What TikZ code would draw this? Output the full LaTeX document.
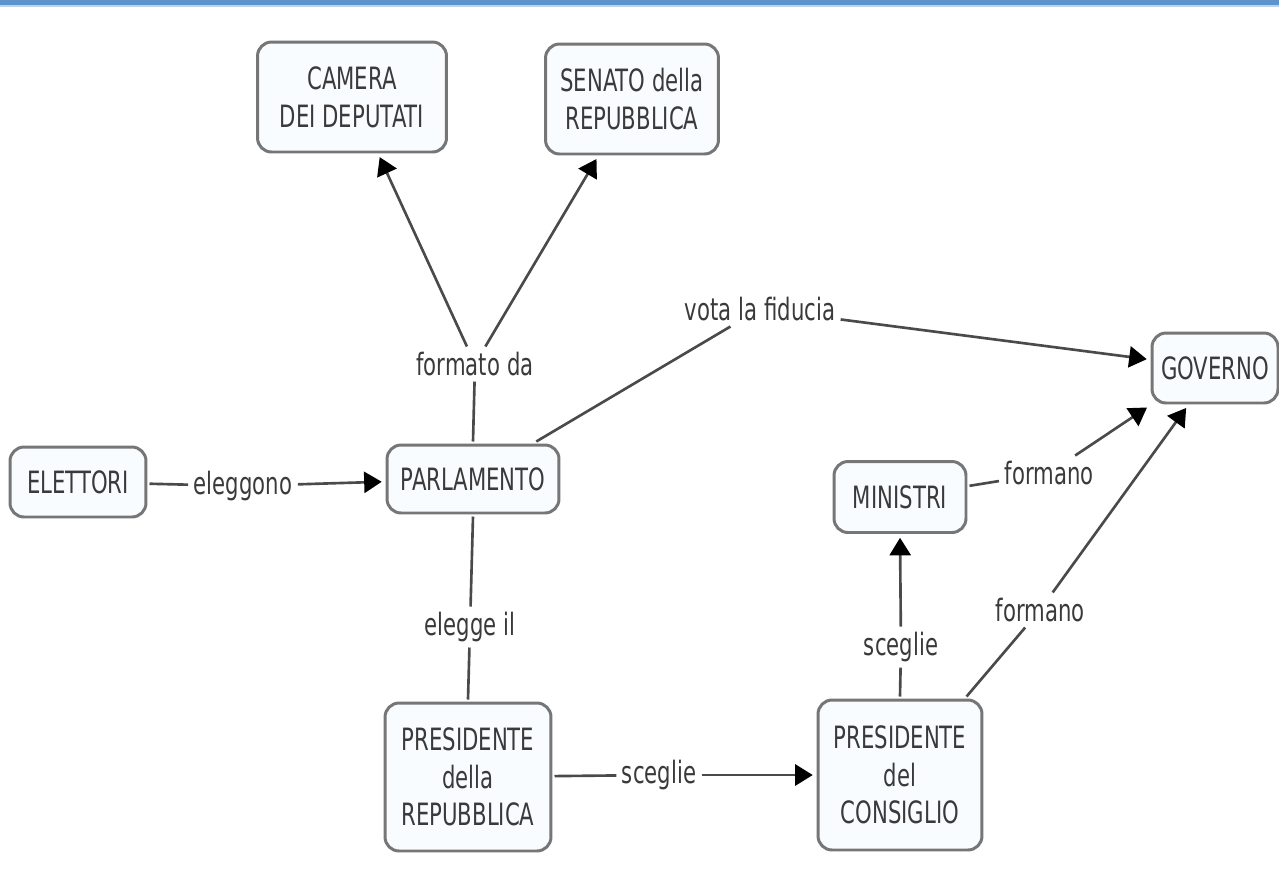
\documentclass[tikz,border=0pt]{standalone}
\usepackage{fontspec}
\setmainfont{DejaVu Sans}[FakeStretch=0.69]
\usetikzlibrary{arrows.meta}
\definecolor{boxborder}{HTML}{767676}
\definecolor{boxfill}{HTML}{F9FCFE}
\definecolor{txt}{HTML}{3A3A3A}
\definecolor{linec}{HTML}{4A4A4A}
\definecolor{topbar}{HTML}{5F93CC}
\begin{document}
\begin{tikzpicture}[x=0.02cm,y=-0.02cm,
  concept/.style={draw=boxborder, fill=boxfill, line width=1.7pt, rounded corners=8pt,
    align=center, text=txt, font=\fontsize{17.5}{21.5}\selectfont, inner sep=2pt, outer sep=2pt},
  lbl/.style={text=txt, font=\fontsize{17.5}{21.5}\selectfont, inner sep=3pt},
  conn/.style={draw=linec, line width=1.5pt},
  arr/.style={conn, -{Triangle[length=10pt,width=12pt,color=black]}, shorten >=1pt}]
\clip (0,0) rectangle (1279,894);
\fill[white] (0,0) rectangle (1279,894);
\fill[topbar] (0,0) rectangle (1279,5);
\fill[topbar!40] (0,5) rectangle (1279,7);

\node[concept, minimum width=3.78cm, minimum height=2.2cm] (cam) at (352,97) {CAMERA\\DEI DEPUTATI};
\node[concept, minimum width=3.46cm, minimum height=2.2cm] (sen) at (632,99) {SENATO della\\REPUBBLICA};
\node[concept, minimum width=2.52cm, minimum height=1.4cm] (gov) at (1215,368) {GOVERNO};
\node[concept, minimum width=2.72cm, minimum height=1.4cm] (ele) at (78,482) {ELETTORI};
\node[concept, minimum width=3.44cm, minimum height=1.36cm] (par) at (473,479) {PARLAMENTO};
\node[concept, minimum width=2.64cm, minimum height=1.42cm] (min) at (900,497) {MINISTRI};
\node[concept, minimum width=3.32cm, minimum height=2.96cm] (prep) at (468,777) {PRESIDENTE\\della\\REPUBBLICA};
\node[concept, minimum width=3.28cm, minimum height=3.0cm] (pcons) at (900,775) {PRESIDENTE\\del\\CONSIGLIO};

\node[lbl] (lform) at (475,364) {formato da};
\node[lbl] (lvota) at (760,309) {vota la fiducia};
\node[lbl] (lele) at (243,486) {eleggono};
\node[lbl] (lelegge) at (470,627) {elegge il};
\node[lbl] (lsc1) at (659,775) {sceglie};
\node[lbl] (lsc2) at (901,647) {sceglie};
\node[lbl] (lfo1) at (1049,473) {formano};
\node[lbl] (lfo2) at (1040,610) {formano};

\draw[conn] (ele) -- (lele);
\draw[arr] (lele) -- (par);
\draw[conn] (par.north) -- (lform);
\draw[arr] (lform) -- (cam);
\draw[arr] (lform) -- (sen);
\draw[conn] (par) -- (lvota);
\draw[arr] (lvota) -- (gov);
\draw[conn] (par.south) -- (lelegge);
\draw[conn] (lelegge) -- (prep.north);
\draw[conn] (prep) -- (lsc1);
\draw[arr] (lsc1) -- (pcons);
\draw[conn] (pcons.north) -- (lsc2);
\draw[arr] (lsc2) -- (min.south);
\draw[conn] (min) -- (lfo1);
\draw[arr] (lfo1) -- (gov.south west);
\draw[conn] (pcons) -- (lfo2);
\draw[arr] (lfo2) -- (gov);
\end{tikzpicture}
\end{document}
